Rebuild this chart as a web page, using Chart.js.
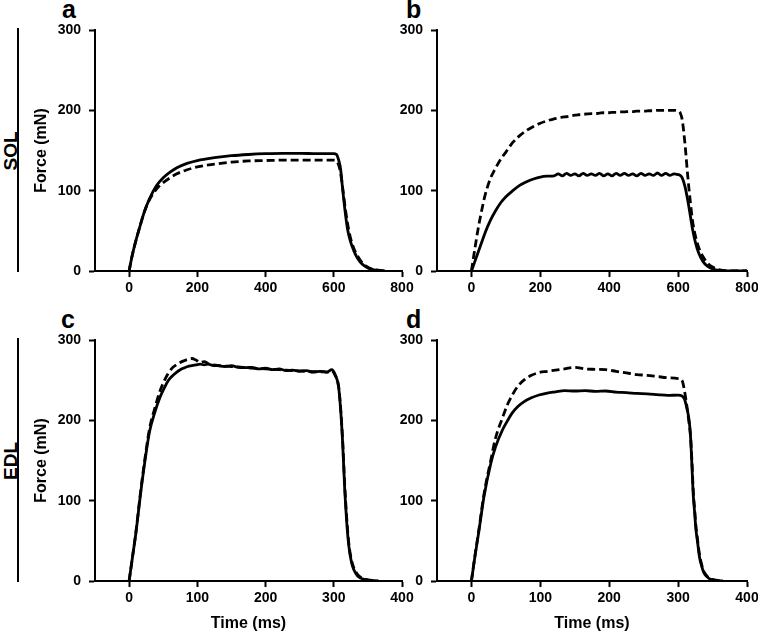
<!DOCTYPE html>
<html>
<head>
<meta charset="utf-8">
<script src="https://cdn.jsdelivr.net/npm/chart.js"></script>
<style>
  html, body { margin: 0; padding: 0; background: #fff; overflow: hidden; width: 758px; height: 641px; }
  body { position: relative; font-family: "Liberation Sans", Arial, sans-serif; color: #000; }
  canvas { position: absolute; }
  .letra { position: absolute; font-weight: bold; font-size: 25px; line-height: 24px; }
  .musculo { position: absolute; width: 60px; height: 22px; line-height: 22px; text-align: center;
             font-weight: bold; font-size: 19px; transform: rotate(-90deg); }
  .barra { position: absolute; width: 2px; background: #000; }
</style>
</head>
<body>

<div class="letra" style="left:62px; top:-3px;">a</div>
<div class="letra" style="left:406px; top:-3px;">b</div>
<div class="letra" style="left:61px; top:307px;">c</div>
<div class="letra" style="left:406px; top:307px;">d</div>

<div class="musculo" style="left:-19px; top:140px;">SOL</div>
<div class="barra" style="left:17px; top:28px; height:244px;"></div>
<div class="musculo" style="left:-19px; top:450px;">EDL</div>
<div class="barra" style="left:17px; top:338px; height:244px;"></div>

<canvas id="panelA" width="420" height="300" style="left:0px; top:0px;"></canvas>
<canvas id="panelB" width="400" height="300" style="left:380px; top:0px;"></canvas>
<canvas id="panelC" width="420" height="323" style="left:0px; top:310px;"></canvas>
<canvas id="panelD" width="400" height="323" style="left:380px; top:310px;"></canvas>

<script>
// Datos (tiempo en ms, fuerza en mN)
const timeA = [0, 5, 10, 20, 30, 45, 60, 80, 100, 120, 140, 170, 200, 250, 300, 350, 400, 450, 500, 550,
               600, 608, 615, 620, 625, 630, 635, 640, 648, 658, 668, 680, 695, 712, 730, 750];
const solidA = [0, 11, 21, 38, 53, 74, 90, 106, 116, 123, 128.5, 134, 137.5, 141, 143.5, 145, 146, 146.5, 146.5, 146,
                146, 145, 137, 127, 106, 86, 68, 53, 38, 26, 17, 10, 5, 2, 0.7, 0];
const dashedA = [0, 11, 21, 38, 53, 74, 89, 102, 110, 116, 121, 126, 129.5, 133, 135.5, 137, 137.5, 138, 138, 138,
                 138, 137, 131, 122, 107, 90, 74, 60, 43, 29, 20, 12, 6, 2.5, 1, 0];

const timeB = [0, 10, 20, 30, 40, 55, 70, 85, 100, 120, 140, 160, 180, 200, 220, 240,
               252, 264, 276, 288, 300, 312, 324, 336, 348, 360, 372, 384, 396, 408, 420,
               432, 444, 456, 468, 480, 492, 504, 516, 528, 540, 552, 564, 576, 588, 600,
               606, 612, 620, 628, 635, 642, 650, 660, 672, 685, 700, 715, 730, 750, 775, 800];
const solidB = [0, 12, 24, 36, 48, 63, 75, 85, 92.5, 100, 106.5, 111, 114.5, 117, 118, 118.5,
                121, 118.5, 121.5, 119, 121, 118.5, 121.5, 119, 121, 119, 121.5, 118.5, 121, 118.5, 121.5,
                119, 121.5, 119, 121, 118.5, 121.5, 119, 121, 119, 122, 119, 121.5, 119, 121, 120,
                119, 116, 105, 88, 70, 52, 36, 22, 12, 6, 2.5, 1, 0.3, 0, 0, 0];
const dashedB = [0, 28, 54, 76, 95, 115, 128, 139, 148, 160, 168.5, 175, 180, 184, 187, 189.5,
                 190.5, 191.5, 192, 193, 194, 194.5, 195, 195.5, 196, 196, 196.5, 197, 197, 197.5, 197.5,
                 198, 198, 198.5, 198.5, 199, 199, 199, 199.5, 199.5, 200, 200, 200, 200, 200, 199,
                 197, 188, 158, 118, 88, 62, 44, 29, 18, 10, 5, 2, 0.8, 0.2, 0, 0];

const timeC = [0, 5, 10, 16, 22, 30, 37, 45, 52, 57, 63, 69, 75, 80, 86, 92, 98, 104, 110, 116,
               122, 130, 140, 150, 160, 170, 180, 190, 200, 210, 220, 230, 240, 250, 260, 270, 280, 290, 297, 302,
               307, 310, 313, 316, 319, 322, 326, 330, 335, 342, 350, 360, 365];
const solidC = [0, 30, 60, 103, 142, 186, 208, 228, 241, 249, 255, 259.5, 263, 265, 267, 268, 269, 270, 269, 270,
                268.5, 268, 267, 268, 266, 265.5, 266, 264, 265, 263, 264, 262, 262.5, 261, 262, 260, 261, 260, 263, 257,
                242, 214, 172, 115, 73, 44, 23, 13, 6, 2.7, 1, 0.3, 0];
const dashedC = [0, 30, 61, 105, 145, 190, 213, 236, 250, 258, 265, 269, 272, 274, 276, 277, 275, 272, 273, 270.5,
                 269, 268.5, 267.5, 267, 266.5, 266, 265, 264.5, 264, 263.5, 263, 262.5, 262, 261.5, 261, 260.5, 260.5, 260, 262, 256,
                 243, 216, 175, 120, 78, 47, 26, 15, 8, 3.5, 1.5, 0.5, 0];

const timeD = [0, 5, 11, 18, 28, 35, 45, 52, 59, 67, 76, 87, 98, 110, 122, 135, 150, 165, 180, 195,
               210, 225, 240, 255, 270, 285, 300, 306, 309, 313, 316, 318, 320, 322, 324, 326, 328, 331, 334, 337,
               341, 346, 355, 365];
const solidD = [0, 30, 63, 104, 146, 167, 188, 199, 209, 217, 223, 228, 231.5, 234, 235.5, 237, 236.5, 237, 236, 236.5,
                235, 234.5, 233.5, 233, 232, 231, 231.5, 230, 227, 214, 200, 180, 145, 107, 85, 63, 50, 30, 19, 11,
                6, 2.5, 0.8, 0];
const dashedD = [0, 31, 65, 107, 150, 178, 203, 219, 231, 242, 250, 256, 259.5, 261, 262.5, 264, 266, 264, 263.5, 263,
                 261, 259, 257, 256, 254.5, 253, 252, 249, 238, 216, 196, 181, 150, 112, 89, 67, 53, 33, 21, 12.5,
                 7, 3, 1, 0];

// Etiquetas de los ejes
const xTicksSOL = [0, 200, 400, 600, 800];
const xTicksEDL = [0, 100, 200, 300, 400];
const yTicks = [0, 100, 200, 300];

const negro = '#000';
const fuente = { family: '"Liberation Sans", Arial, sans-serif', weight: 'bold', size: 14 };
const fuenteTitulo = { family: '"Liberation Sans", Arial, sans-serif', weight: 'bold', size: 16 };

function puntos(tiempo, fuerza) {
    return tiempo.map((t, i) => ({ x: t, y: fuerza[i] }));
}

function dibujarPanel(id, tiempo, continua, discontinua, cfg) {
    const ctx = document.getElementById(id).getContext('2d');
    new Chart(ctx, {
        type: 'scatter',
        data: {
            datasets: [{
                data: puntos(tiempo, continua),
                showLine: true,
                borderColor: negro,
                borderWidth: 2.8,
                pointRadius: 0,
                cubicInterpolationMode: 'monotone'
            }, {
                data: puntos(tiempo, discontinua),
                showLine: true,
                borderColor: negro,
                borderWidth: 2.8,
                borderDash: [8, 4],
                pointRadius: 0,
                cubicInterpolationMode: 'monotone'
            }]
        },
        options: {
            responsive: false,
            animation: false,
            events: [],
            layout: { padding: cfg.padding },
            plugins: {
                legend: { display: false },
                tooltip: { enabled: false }
            },
            scales: {
                x: {
                    type: 'linear',
                    min: cfg.xMin,
                    max: cfg.xMax,
                    ticks: { color: negro, font: fuente, padding: 3, maxRotation: 0, autoSkip: false },
                    grid: { drawOnChartArea: false, tickLength: 6, tickWidth: 2, tickColor: negro },
                    border: { color: negro, width: 2 },
                    title: { display: cfg.xTitle, text: 'Time (ms)', color: negro, font: fuenteTitulo, padding: 0 },
                    afterBuildTicks: scale => { scale.ticks = cfg.xTicks.map(v => ({ value: v })); },
                    afterFit: scale => { scale.height = cfg.xHeight; }
                },
                y: {
                    min: 0,
                    max: 300,
                    ticks: { color: negro, font: fuente, padding: 8, autoSkip: false },
                    grid: { drawOnChartArea: false, tickLength: 6, tickWidth: 2, tickColor: negro },
                    border: { color: negro, width: 2 },
                    title: { display: cfg.yTitle, text: 'Force (mN)', color: negro, font: fuenteTitulo, padding: 0 },
                    afterBuildTicks: scale => { scale.ticks = yTicks.map(v => ({ value: v })); },
                    afterFit: scale => { scale.width = cfg.yWidth; }
                }
            }
        }
    });
}

document.addEventListener('DOMContentLoaded', function () {
    dibujarPanel('panelA', timeA, solidA, dashedA, {
        xMin: -100, xMax: 800, xTicks: xTicksSOL, xTitle: false, yTitle: true,
        padding: { left: 32, top: 30, right: 18, bottom: 0 }, yWidth: 63, xHeight: 29
    });
    dibujarPanel('panelB', timeB, solidB, dashedB, {
        xMin: -100, xMax: 800, xTicks: xTicksSOL, xTitle: false, yTitle: false,
        padding: { left: 12, top: 30, right: 33, bottom: 0 }, yWidth: 45, xHeight: 29
    });
    dibujarPanel('panelC', timeC, solidC, dashedC, {
        xMin: -50, xMax: 400, xTicks: xTicksEDL, xTitle: true, yTitle: true,
        padding: { left: 32, top: 30, right: 18, bottom: 0 }, yWidth: 63, xHeight: 52
    });
    dibujarPanel('panelD', timeD, solidD, dashedD, {
        xMin: -50, xMax: 400, xTicks: xTicksEDL, xTitle: true, yTitle: false,
        padding: { left: 12, top: 30, right: 33, bottom: 0 }, yWidth: 45, xHeight: 52
    });
});
</script>
</body>
</html>
